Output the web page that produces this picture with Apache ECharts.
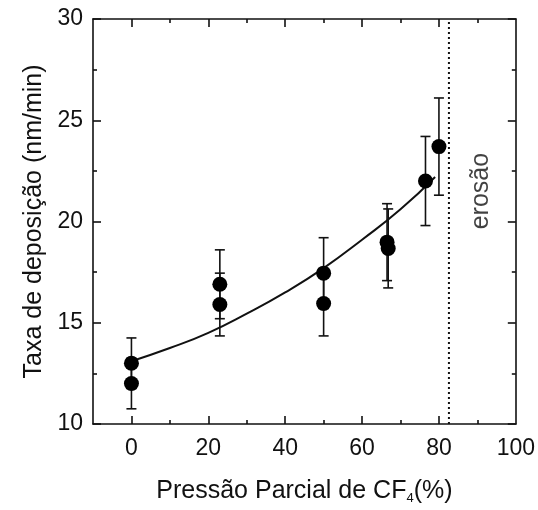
<!DOCTYPE html>
<html>
<head>
<meta charset="utf-8">
<script src="https://cdn.jsdelivr.net/npm/echarts@6/dist/echarts.min.js"></script>
<style>html,body{margin:0;padding:0;background:#fff}#c{width:538px;height:510px}</style>
</head>
<body>
<div id="c"></div>
<script>
// Data
const pressure = [0, 0, 23, 23, 50, 50, 66.5, 66.8, 76.5, 80];
const rate = [13.0, 12.0, 16.9, 15.9, 17.45, 15.95, 18.98, 18.67, 22.0, 23.7];
const rateErr = [1.25, 1.25, 1.7, 1.55, 1.75, 1.6, 1.9, 1.95, 2.2, 2.4];
const fitX = [0, 10, 20, 30, 40, 50, 60, 70, 79];
const fitY = [13.1, 13.75, 14.5, 15.45, 16.5, 17.7, 19.1, 20.6, 22.2];
const erosionLimit = 82.6;
const xLabels = [0, 20, 40, 60, 80, 100];
const xMajor = [0, 20, 40, 60, 80];
const xMinor = [10, 30, 50, 70, 90];
const erosionText = 'erosão';

const FONT = 'Liberation Sans, Arial, sans-serif';
const FS = 23;
const FT = 25;
const TXT = '#111';
const chart = echarts.init(document.getElementById('c'));

const points = pressure.map((x, i) => [x, rate[i]]);
const errData = pressure.map((x, i) => [x, rate[i] - rateErr[i], rate[i] + rateErr[i]]);
const fitData = fitX.map((x, i) => [x, fitY[i]]);

function xAxisBase(pos) {
  return {
    type: 'value', min: -10, max: 100, position: pos,
    axisLine: { show: true, onZero: false, lineStyle: { color: '#111', width: 1.6 } },
    splitLine: { show: false }
  };
}

chart.setOption({
  animation: false,
  backgroundColor: '#fff',
  grid: { left: 93, right: 22, top: 19, bottom: 82 },
  xAxis: [
    Object.assign(xAxisBase('bottom'), {
      name: 'Pressão Parcial de CF{s|4}(%)',
      nameLocation: 'middle', nameGap: 54,
      nameTextStyle: { fontFamily: FONT, fontSize: FT, color: TXT,
        rich: { s: { fontFamily: FONT, fontSize: 13, color: TXT, padding: [14, 0, 0, 0] } } },
      axisTick: { show: true, inside: true, length: 8, customValues: xMajor, lineStyle: { color: '#111', width: 1.6 } },
      axisLabel: { customValues: xLabels, fontFamily: FONT, fontSize: FS, color: TXT, margin: 13 }
    }),
    Object.assign(xAxisBase('bottom'), {
      axisLine: { show: false },
      axisTick: { show: true, inside: true, length: 4, customValues: xMinor, lineStyle: { color: '#111', width: 1.6 } },
      axisLabel: { show: false }
    }),
    Object.assign(xAxisBase('top'), {
      axisTick: { show: true, inside: true, length: 8, customValues: xMajor, lineStyle: { color: '#111', width: 1.6 } },
      axisLabel: { show: false }
    }),
    Object.assign(xAxisBase('top'), {
      axisLine: { show: false },
      axisTick: { show: true, inside: true, length: 4, customValues: xMinor, lineStyle: { color: '#111', width: 1.6 } },
      axisLabel: { show: false }
    })
  ],
  yAxis: [
    {
      type: 'value', min: 10, max: 30, interval: 5, position: 'left',
      name: 'Taxa de deposição (nm/min)', nameLocation: 'middle', nameGap: 44,
      nameTextStyle: { fontFamily: FONT, fontSize: FT, color: TXT },
      axisLine: { show: true, onZero: false, lineStyle: { color: '#111', width: 1.6 } },
      axisTick: { inside: true, length: 8, lineStyle: { color: '#111', width: 1.6 } },
      minorTick: { show: true, splitNumber: 2, length: 4, lineStyle: { color: '#111', width: 1.6 } },
      axisLabel: { fontFamily: FONT, fontSize: FS, color: TXT, margin: 10 },
      splitLine: { show: false }
    },
    {
      type: 'value', min: 10, max: 30, interval: 5, position: 'right',
      axisLine: { show: true, onZero: false, lineStyle: { color: '#111', width: 1.6 } },
      axisTick: { inside: true, length: 8, lineStyle: { color: '#111', width: 1.6 } },
      minorTick: { show: true, splitNumber: 2, length: 4, lineStyle: { color: '#111', width: 1.6 } },
      axisLabel: { show: false },
      splitLine: { show: false }
    }
  ],
  series: [
    {
      type: 'line', data: fitData, smooth: true, showSymbol: false,
      lineStyle: { color: '#111', width: 2 }, z: 2
    },
    {
      type: 'custom', data: errData, z: 3,
      renderItem: function (params, api) {
        const x = api.value(0);
        const lo = api.coord([x, api.value(1)]);
        const hi = api.coord([x, api.value(2)]);
        const hw = 5;
        const st = { stroke: '#111', lineWidth: 1.6 };
        return {
          type: 'group', children: [
            { type: 'line', shape: { x1: lo[0], y1: lo[1], x2: hi[0], y2: hi[1] }, style: st },
            { type: 'line', shape: { x1: lo[0] - hw, y1: lo[1], x2: lo[0] + hw, y2: lo[1] }, style: st },
            { type: 'line', shape: { x1: hi[0] - hw, y1: hi[1], x2: hi[0] + hw, y2: hi[1] }, style: st }
          ]
        };
      },
      encode: { x: 0, y: [1, 2] }
    },
    {
      type: 'scatter', data: points, symbol: 'circle', symbolSize: 15,
      itemStyle: { color: '#000', opacity: 1 }, z: 4
    },
    {
      type: 'line', data: [[erosionLimit, 10], [erosionLimit, 30]], showSymbol: false,
      lineStyle: { color: '#111', width: 2, type: [2, 3] }, z: 2
    },
    {
      type: 'scatter', data: [[91, 21.5]], symbolSize: 0,
      label: { show: true, formatter: erosionText, rotate: 90, position: 'inside',
        fontFamily: FONT, fontSize: FT, color: TXT }
    }
  ]
});
</script>
</body>
</html>
